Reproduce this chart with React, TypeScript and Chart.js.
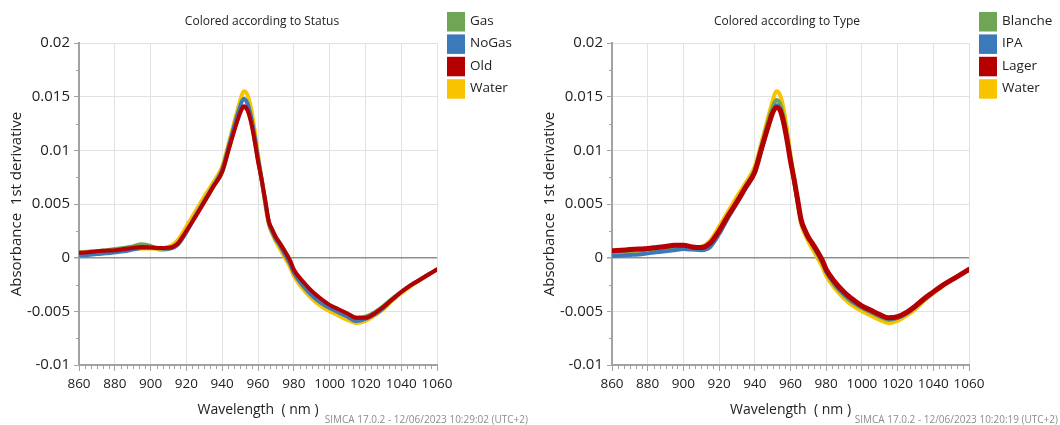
import React, { useEffect, useRef } from "react";
import { Chart, registerables } from "chart.js";

Chart.register(...registerables);

// ---------- data ----------
const wavelengths = [
  860, 865, 870, 875, 880, 885, 890, 895, 900, 905, 910, 915, 920, 925, 930, 935, 940, 944, 948, 950,
  952, 954, 956, 958, 960, 962, 964, 966, 968, 970, 972, 975, 978, 980, 985, 990, 995, 1000, 1005, 1010,
  1015, 1020, 1025, 1030, 1035, 1040, 1045, 1050, 1055, 1060,
];

// Left panel (Status)
const gas = [
  0.0005, 0.00055, 0.0006, 0.0007, 0.0008, 0.0009, 0.00105, 0.00125, 0.0011, 0.00075, 0.0008, 0.0012, 0.0024, 0.0039, 0.0052, 0.0066, 0.008, 0.0103, 0.0126, 0.0135,
  0.014, 0.0138, 0.0128, 0.0111, 0.0091, 0.0073, 0.0053, 0.0034, 0.0026, 0.0019, 0.0014, 0.0006, -0.0003, -0.0012, -0.0024, -0.0033, -0.004, -0.0045, -0.0049, -0.0053,
  -0.0056, -0.0055, -0.0051, -0.0045, -0.0038, -0.0032, -0.0026, -0.0021, -0.0016, -0.0011,
];
const noGas = [
  0.0002, 0.00025, 0.00035, 0.0004, 0.0005, 0.0006, 0.00075, 0.0009, 0.00095, 0.0009, 0.00085, 0.0012, 0.0024, 0.0039, 0.0053, 0.0067, 0.0082, 0.0106, 0.013, 0.0141,
  0.0148, 0.0144, 0.0132, 0.0114, 0.0093, 0.0073, 0.0052, 0.0033, 0.0024, 0.0017, 0.0012, 0.0003, -0.0006, -0.0014, -0.0026, -0.0035, -0.0042, -0.0047, -0.0051, -0.0055,
  -0.0059, -0.0057, -0.0053, -0.0047, -0.0039, -0.0032, -0.0026, -0.0021, -0.0016, -0.0011,
];
const old = [
  0.00045, 0.0005, 0.0006, 0.00065, 0.0007, 0.0008, 0.0009, 0.001, 0.00095, 0.0009, 0.00092, 0.0013, 0.0025, 0.0038, 0.0052, 0.0066, 0.008, 0.0103, 0.0125, 0.0135,
  0.0141, 0.0138, 0.0127, 0.011, 0.009, 0.0073, 0.0054, 0.0034, 0.0026, 0.0019, 0.0014, 0.0006, -0.0003, -0.0011, -0.0022, -0.0031, -0.0038, -0.0044, -0.0048, -0.0052,
  -0.0056, -0.0056, -0.0052, -0.0046, -0.0039, -0.0032, -0.0026, -0.0021, -0.0016, -0.0011,
];
const water = [
  0.00045, 0.0005, 0.00055, 0.0006, 0.00065, 0.0007, 0.0008, 0.00085, 0.00085, 0.00085, 0.001, 0.0016, 0.0029, 0.0043, 0.0057, 0.007, 0.0085, 0.0109, 0.0134, 0.0146,
  0.0155, 0.0152, 0.014, 0.012, 0.0096, 0.0074, 0.005, 0.0031, 0.0022, 0.0015, 0.0009, 0.0, -0.0009, -0.0017, -0.0029, -0.0038, -0.0045, -0.005, -0.0054, -0.0058,
  -0.0061, -0.0059, -0.0054, -0.0048, -0.004, -0.0033, -0.0027, -0.0021, -0.0016, -0.0011,
];

// Right panel (Type)
const blanche = [
  0.00055, 0.0006, 0.00065, 0.0007, 0.00075, 0.00085, 0.00095, 0.00105, 0.001, 0.0009, 0.00085, 0.0012, 0.0024, 0.0039, 0.0053, 0.0067, 0.0082, 0.0106, 0.013, 0.014,
  0.0147, 0.0144, 0.0132, 0.0114, 0.0093, 0.0073, 0.0053, 0.0034, 0.0025, 0.0018, 0.0013, 0.0004, -0.0005, -0.0013, -0.0026, -0.0035, -0.0042, -0.0047, -0.0051, -0.0055,
  -0.0058, -0.0056, -0.0052, -0.0046, -0.0039, -0.0032, -0.0026, -0.0021, -0.0016, -0.0011,
];
const ipa = [
  0.00015, 0.0002, 0.00025, 0.0003, 0.0004, 0.0005, 0.0006, 0.0007, 0.0008, 0.00075, 0.0007, 0.001, 0.0022, 0.0037, 0.0051, 0.0065, 0.0079, 0.0102, 0.0125, 0.0135,
  0.0142, 0.0139, 0.0128, 0.0111, 0.0091, 0.0072, 0.0052, 0.0034, 0.0025, 0.0018, 0.0013, 0.0004, -0.0005, -0.0013, -0.0025, -0.0034, -0.0041, -0.0046, -0.005, -0.0054,
  -0.0057, -0.0056, -0.0052, -0.0046, -0.0039, -0.0032, -0.0026, -0.0021, -0.0016, -0.0011,
];
const lager = [
  0.00065, 0.0007, 0.00075, 0.0008, 0.00085, 0.00095, 0.00105, 0.00115, 0.00115, 0.001, 0.00095, 0.00135, 0.0025, 0.0039, 0.0052, 0.0066, 0.008, 0.0103, 0.0125, 0.0135,
  0.014, 0.0138, 0.0127, 0.011, 0.009, 0.0073, 0.0054, 0.0035, 0.0026, 0.0019, 0.0014, 0.0006, -0.0003, -0.0011, -0.0023, -0.0032, -0.0039, -0.0045, -0.0049, -0.0053,
  -0.0056, -0.0055, -0.0051, -0.0045, -0.0038, -0.0032, -0.0026, -0.0021, -0.0016, -0.0011,
];

const xTickValues = [860, 880, 900, 920, 940, 960, 980, 1000, 1020, 1040, 1060];
const yTickValues = [-0.01, -0.005, 0, 0.005, 0.01, 0.015, 0.02];
const yMinorValues = [-0.0075, -0.0025, 0.0025, 0.0075, 0.0125, 0.0175];

const GREEN = "#6fa555";
const BLUE = "#3b79bb";
const RED = "#b40000";
const YELLOW = "#f8c400";

const FONT = '"Open Sans", "Noto Sans", sans-serif';
const AXIS = "#a2a2a2";

type Series = { label: string; color: string; values: number[]; width: number };
type PanelCfg = {
  title: string;
  footer: string;
  legend: { label: string; color: string }[];
  series: Series[]; // first drawn on top
  yAxisWidth: number;
  rightPad: number;
  yTitlePad: number;
  titleX: number;
  legendX: number;
};

const leftCfg: PanelCfg = {
  title: "Colored according to Status",
  footer: "SIMCA 17.0.2 - 12/06/2023 10:29:02 (UTC+2)",
  legend: [
    { label: "Gas", color: GREEN },
    { label: "NoGas", color: BLUE },
    { label: "Old", color: RED },
    { label: "Water", color: YELLOW },
  ],
  series: [
    { label: "Old", color: RED, values: old, width: 4 },
    { label: "NoGas", color: BLUE, values: noGas, width: 4 },
    { label: "Water", color: YELLOW, values: water, width: 4 },
    { label: "Gas", color: GREEN, values: gas, width: 4 },
  ],
  yAxisWidth: 79,
  rightPad: 93,
  yTitlePad: 8,
  titleX: 262,
  legendX: 447,
};

const rightCfg: PanelCfg = {
  title: "Colored according to Type",
  footer: "SIMCA 17.0.2 - 12/06/2023 10:20:19 (UTC+2)",
  legend: [
    { label: "Blanche", color: GREEN },
    { label: "IPA", color: BLUE },
    { label: "Lager", color: RED },
    { label: "Water", color: YELLOW },
  ],
  series: [
    { label: "Lager", color: RED, values: lager, width: 5 },
    { label: "IPA", color: BLUE, values: ipa, width: 4 },
    { label: "Blanche", color: GREEN, values: blanche, width: 4 },
    { label: "Water", color: YELLOW, values: water, width: 4 },
  ],
  yAxisWidth: 82,
  rightPad: 91,
  yTitlePad: 11,
  titleX: 257,
  legendX: 449,
};

function makeOverlay(cfg: PanelCfg) {
  return {
    id: "overlay",
    afterDraw(chart: any) {
      const { ctx, chartArea: area } = chart;
      const xs = chart.scales.x;
      const ys = chart.scales.y;
      ctx.save();
      // minor ticks
      ctx.strokeStyle = AXIS;
      ctx.lineWidth = 1;
      ctx.beginPath();
      for (let i = 0; i < xTickValues.length - 1; i++) {
        const a = xTickValues[i];
        const b = xTickValues[i + 1];
        for (let k = 1; k < 6; k++) {
          const px = Math.round(xs.getPixelForValue(a + ((b - a) * k) / 6)) + 0.5;
          ctx.moveTo(px, area.bottom);
          ctx.lineTo(px, area.bottom + 4);
        }
      }
      yMinorValues.forEach((v) => {
        const py = Math.round(ys.getPixelForValue(v)) + 0.5;
        ctx.moveTo(area.left, py);
        ctx.lineTo(area.left - 3, py);
      });
      ctx.stroke();

      // title
      ctx.fillStyle = "#222";
      ctx.font = `12px ${FONT}`;
      ctx.textAlign = "center";
      ctx.textBaseline = "middle";
      ctx.fillText(cfg.title, cfg.titleX, 22);

      // legend
      cfg.legend.forEach((item, i) => {
        const top = 12 + i * 22.4;
        ctx.fillStyle = item.color;
        ctx.fillRect(cfg.legendX, top, 18, 19.5);
        ctx.fillStyle = "#222";
        ctx.font = `13.5px ${FONT}`;
        ctx.textAlign = "left";
        ctx.textBaseline = "middle";
        ctx.fillText(item.label, cfg.legendX + 23, top + 9);
      });

      // footer
      ctx.fillStyle = "#8c8c8c";
      ctx.font = `10px ${FONT}`;
      ctx.textAlign = "right";
      ctx.textBaseline = "middle";
      ctx.fillText(cfg.footer, 528, 420);
      ctx.restore();
    },
  };
}

function Panel({ cfg }: { cfg: PanelCfg }) {
  const ref = useRef<HTMLCanvasElement>(null);
  useEffect(() => {
    const canvas = ref.current;
    if (!canvas) return;
    const chart = new Chart(canvas, {
      type: "line",
      data: {
        datasets: cfg.series.map((s) => ({
          label: s.label,
          data: wavelengths.map((w, i) => ({ x: w, y: s.values[i] })),
          borderColor: s.color,
          backgroundColor: s.color,
          borderWidth: s.width,
          pointRadius: 0,
          fill: false,
          cubicInterpolationMode: "monotone" as const,
          borderJoinStyle: "round" as const,
          borderCapStyle: "round" as const,
        })),
      },
      options: {
        animation: false,
        responsive: false,
        events: [],
        layout: { padding: { left: 0, top: 43, right: cfg.rightPad, bottom: 0 } },
        plugins: { legend: { display: false }, title: { display: false }, tooltip: { enabled: false } },
        scales: {
          x: {
            type: "linear",
            min: 860,
            max: 1060,
            afterBuildTicks: (scale: any) => {
              scale.ticks = xTickValues.map((v) => ({ value: v }));
            },
            afterFit: (scale: any) => {
              scale.height = 60;
            },
            ticks: {
              autoSkip: false,
              maxRotation: 0,
              padding: 5,
              color: "#222",
              font: { family: FONT, size: 13.5 },
              callback: (v: any) => String(v),
            },
            grid: { color: "#e2e2e2", lineWidth: 1, tickLength: 6, tickColor: AXIS },
            border: { color: AXIS, width: 2 },
            title: {
              display: true,
              text: "Wavelength  ( nm )",
              color: "#222",
              font: { family: FONT, size: 14 },
              padding: { top: 0, bottom: 7 },
            },
          },
          y: {
            type: "linear",
            min: -0.01,
            max: 0.02,
            afterBuildTicks: (scale: any) => {
              scale.ticks = yTickValues.map((v) => ({ value: v }));
            },
            afterFit: (scale: any) => {
              scale.width = cfg.yAxisWidth;
            },
            ticks: {
              padding: 4,
              color: "#222",
              font: { family: FONT, size: 15 },
              callback: (v: any) => {
                const n = Number(Number(v).toFixed(4));
                return n === 0 ? "0" : String(n);
              },
            },
            grid: {
              color: (c: any) => (c.tick && Math.abs(c.tick.value) < 1e-9 ? "#8e8e8e" : "#e2e2e2"),
              lineWidth: (c: any) => (c.tick && Math.abs(c.tick.value) < 1e-9 ? 1.5 : 1),
              tickLength: 5,
              tickColor: AXIS,
            },
            border: { color: AXIS, width: 2 },
            title: {
              display: true,
              text: "Absorbance  1st derivative",
              color: "#222",
              font: { family: FONT, size: 15 },
              padding: { top: cfg.yTitlePad, bottom: 0 },
            },
          },
        },
      },
      plugins: [makeOverlay(cfg)],
    } as any);
    return () => chart.destroy();
  }, [cfg]);
  return <canvas ref={ref} width={530} height={425} style={{ display: "block", width: 530, height: 425 }} />;
}

export default function App() {
  return (
    <div
      style={{
        position: "absolute",
        left: 0,
        top: 0,
        width: 1060,
        height: 425,
        display: "flex",
        background: "#fff",
      }}
    >
      <Panel cfg={leftCfg} />
      <Panel cfg={rightCfg} />
    </div>
  );
}
